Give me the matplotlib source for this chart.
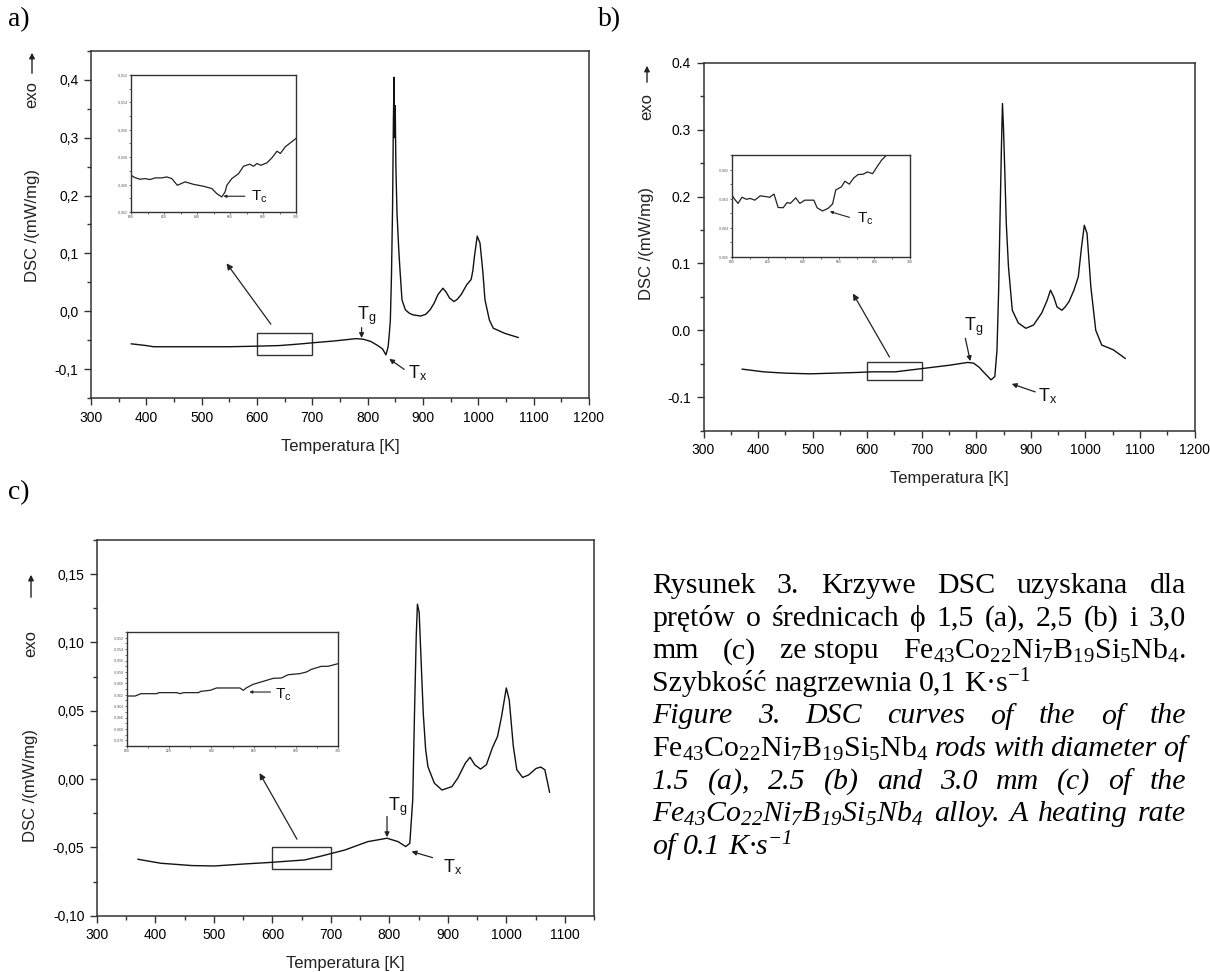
import numpy as np
import matplotlib
matplotlib.use('Agg')
import matplotlib.pyplot as plt
from matplotlib.ticker import MultipleLocator, FuncFormatter

plt.rcParams['font.family'] = ['Liberation Sans', 'DejaVu Sans']
plt.rcParams['mathtext.fontset'] = 'custom'
plt.rcParams['mathtext.rm'] = 'Liberation Serif'
plt.rcParams['mathtext.it'] = 'Liberation Serif:italic'
plt.rcParams['mathtext.bf'] = 'Liberation Serif:italic'
plt.rcParams['mathtext.sf'] = 'Liberation Sans'

W, H = 1210, 972

# ---- panel a) phi 1,5 mm
temp_a = [373, 400, 413, 450, 500, 551, 600, 640, 654, 680,
          703, 740, 779, 792, 806, 820, 827, 833, 837, 839,
          841, 843, 845, 846.5, 847.7, 848.5, 849.8, 851, 853, 856,
          858, 862, 868, 875, 882, 896, 905, 913, 920, 927,
          936, 942, 948, 956, 962, 969, 979, 987, 990, 993,
          998, 1003, 1008, 1012, 1020, 1027, 1048, 1072]
dsc_a = [-0.056, -0.059, -0.061, -0.061, -0.061, -0.061, -0.060, -0.059, -0.058, -0.056,
         -0.054, -0.051, -0.047, -0.048, -0.052, -0.060, -0.065, -0.075, -0.061, -0.040,
         -0.015, 0.060, 0.180, 0.330, 0.404, 0.300, 0.355, 0.250, 0.170, 0.110,
         0.078, 0.020, 0.003, -0.003, -0.006, -0.008, -0.005, 0.003, 0.014, 0.029,
         0.040, 0.033, 0.023, 0.017, 0.021, 0.029, 0.046, 0.055, 0.070, 0.095,
         0.130, 0.118, 0.070, 0.020, -0.015, -0.029, -0.038, -0.045]
ins_temp_a = [600, 602.4, 605.5, 608.5, 611.5, 614.6, 618.6, 621.7, 624.7, 628.1,
              632.8, 637.9, 643.9, 649, 652, 655, 657, 658.1, 661.1, 665.2,
              668.2, 671.9, 674.3, 676.3, 678.7, 682.4, 685.4, 688.5, 690.5, 693.5,
              696.6, 700]
ins_dsc_a = [-0.05932, -0.05949, -0.05961, -0.05956, -0.05963, -0.05951, -0.05951, -0.05944, -0.05956, -0.06005,
             -0.05980, -0.05998, -0.06012, -0.06029, -0.06066, -0.06090, -0.06054, -0.06005, -0.05956, -0.05920,
             -0.05866, -0.05851, -0.05866, -0.05846, -0.05859, -0.05841, -0.05805, -0.05756, -0.05773, -0.05724,
             -0.05695, -0.05663]

# ---- panel b) phi 2,5 mm
temp_b = [371, 410, 450, 495, 538, 580, 610, 652, 702, 752,
          784, 795, 805, 813, 820, 827, 834, 838, 841, 843,
          846, 848, 850, 852, 855, 859, 866, 877, 891, 905,
          920, 930, 936, 942, 948, 957, 963, 970, 979, 987,
          993, 998, 1003, 1010, 1019, 1030, 1051, 1073]
dsc_b = [-0.058, -0.062, -0.064, -0.065, -0.064, -0.063, -0.062, -0.062, -0.057, -0.052,
         -0.048, -0.049, -0.055, -0.062, -0.068, -0.074, -0.069, -0.029, 0.060, 0.145,
         0.270, 0.339, 0.300, 0.245, 0.160, 0.095, 0.030, 0.011, 0.003, 0.008,
         0.026, 0.045, 0.060, 0.050, 0.035, 0.030, 0.035, 0.043, 0.060, 0.080,
         0.125, 0.157, 0.145, 0.065, 0.000, -0.022, -0.029, -0.042]
ins_temp_b = [600, 601.5, 603.4, 605.6, 608.1, 610.3, 612.8, 615.9, 619.3, 621.2,
              623.6, 625.9, 628.7, 631, 632.8, 635.8, 638.1, 640.9, 646, 647.8,
              650.8, 654, 656.5, 658.3, 661.5, 663.4, 665.9, 668.5, 670.9, 673.7,
              676, 679, 681.2, 684, 686.9]
ins_dsc_b = [-0.06288, -0.06302, -0.06316, -0.06295, -0.06302, -0.06299, -0.06305, -0.06290, -0.06293, -0.06295,
             -0.06284, -0.06330, -0.06331, -0.06313, -0.06316, -0.06297, -0.06316, -0.06305, -0.06305, -0.06331,
             -0.06342, -0.06333, -0.06318, -0.06270, -0.06259, -0.06240, -0.06250, -0.06228, -0.06217, -0.06216,
             -0.06208, -0.06214, -0.06193, -0.06168, -0.06150]

# ---- panel c) phi 3,0 mm
temp_c = [370, 409, 462, 501, 553, 593, 632, 655, 684, 724,
          763, 796, 815, 828, 835, 840, 843, 846, 848, 851,
          854, 858, 862, 866, 877, 890, 907, 917, 930, 938,
          946, 956, 966, 976, 985, 992, 1000, 1005, 1012, 1018,
          1028, 1038, 1051, 1059, 1066, 1074]
dsc_c = [-0.0587, -0.0616, -0.0633, -0.0636, -0.0621, -0.0611, -0.0599, -0.0592, -0.0563, -0.0519,
         -0.0458, -0.0433, -0.0458, -0.0494, -0.0470, -0.0150, 0.0480, 0.1050, 0.1280, 0.1220,
         0.0900, 0.0480, 0.0220, 0.0090, -0.0030, -0.0080, -0.0055, 0.0007, 0.0117, 0.0160,
         0.0105, 0.0073, 0.0105, 0.0227, 0.0312, 0.0460, 0.0667, 0.0580, 0.0240, 0.0068,
         0.0012, 0.0030, 0.0078, 0.0088, 0.0068, -0.0096]
ins_temp_c = [600, 603.9, 606.6, 614.2, 615, 623.6, 625.2, 626.8, 633.9, 635,
              639.4, 642.5, 653.5, 655.1, 656.7, 659.8, 664.6, 669.3, 673.2, 676.4,
              681.9, 685, 687.4, 692.1, 695.3, 700]
ins_dsc_c = [-0.06223, -0.06223, -0.06182, -0.06182, -0.06164, -0.06164, -0.06182, -0.06164, -0.06164, -0.06141,
             -0.06123, -0.06082, -0.06082, -0.06123, -0.06077, -0.06018, -0.05965, -0.05913, -0.05907, -0.05849,
             -0.05831, -0.05802, -0.05755, -0.05702, -0.05702, -0.05656]

zoom_window = (600, 700)


def box(l, t, r, b):
    return [l / W, 1 - b / H, (r - l) / W, (b - t) / H]


def fp(x, y):
    return (x / W, 1 - y / H)


def fmt(decimals, comma):
    def f(v, pos):
        s = f"{round(v, decimals + 2):.{decimals}f}"
        if s.startswith('-') and float(s) == 0:
            s = s[1:]
        return s.replace('.', ',') if comma else s
    return FuncFormatter(f)


def main_axes(rect, xlim, ylim, ystep, decimals, comma):
    ax = fig.add_axes(rect)
    ax.set_xlim(*xlim)
    ax.set_ylim(*ylim)
    ax.xaxis.set_major_locator(MultipleLocator(100))
    ax.xaxis.set_minor_locator(MultipleLocator(50))
    ax.yaxis.set_major_locator(MultipleLocator(ystep))
    ax.yaxis.set_minor_locator(MultipleLocator(ystep / 2))
    ax.yaxis.set_major_formatter(fmt(decimals, comma))
    ax.tick_params(which='both', direction='out', top=False, right=False,
                   labelsize=10, color='#333333', width=1)
    ax.tick_params(which='major', length=5, pad=4)
    ax.tick_params(which='minor', length=3)
    for s in ax.spines.values():
        s.set_linewidth(1.1)
        s.set_color('#333333')
    return ax


def inset_axes(rect, ylim, ystep, temps, vals):
    ax = fig.add_axes(rect)
    ax.plot(temps, vals, color='#222222', lw=0.9)
    ax.set_xlim(*zoom_window)
    ax.set_ylim(*ylim)
    ax.xaxis.set_major_locator(MultipleLocator(20))
    ax.xaxis.set_minor_locator(MultipleLocator(10))
    ax.yaxis.set_major_locator(MultipleLocator(ystep))
    ax.yaxis.set_minor_locator(MultipleLocator(ystep / 2))
    ax.yaxis.set_major_formatter(fmt(3, True))
    ax.tick_params(which='both', direction='out', labelsize=2.5, length=1.5,
                   width=0.6, pad=1, colors='#555555')
    for s in ax.spines.values():
        s.set_linewidth(1.0)
        s.set_color('#333333')
    return ax


def arrow(ax, tail, head, lw=0.9, ms=9):
    ax.annotate('', xy=head, xytext=tail,
                arrowprops=dict(arrowstyle='-|>', color='#222222', lw=lw,
                                mutation_scale=ms, shrinkA=0, shrinkB=0))


def label_T(ax, pos, sub, size=13):
    ax.text(pos[0], pos[1], r'$\mathsf{T}_{\mathsf{' + sub + '}}$',
            fontsize=size, ha='left', va='center', color='#111111')


def side_labels(xc, dsc_y, exo_y, arr_from, arr_to):
    fig.text(*fp(xc, dsc_y), 'DSC /(mW/mg)', rotation=90, fontsize=12,
             ha='center', va='center', color='#222222')
    fig.text(*fp(xc, exo_y), 'exo', rotation=90, fontsize=12,
             ha='center', va='center', color='#222222')
    fig.add_artist(matplotlib.patches.FancyArrowPatch(
        fp(xc, arr_from), fp(xc, arr_to), transform=fig.transFigure,
        arrowstyle='-|>', mutation_scale=8, color='#222222', lw=1))


fig = plt.figure(figsize=(W / 100, H / 100), dpi=100)

# ================= a)
ax = main_axes(box(91, 50.7, 589, 398.3), (300, 1200), (-0.15, 0.45), 0.1, 1, True)
ax.plot(temp_a, dsc_a, color='#111111', lw=1.0)
ax.add_patch(plt.Rectangle((zoom_window[0], -0.076), 100, 0.038, fill=False,
                           ec='#333333', lw=1.0))
arrow(ax, (625, -0.022), (545, 0.083))
arrow(ax, (789, -0.028), (789, -0.046), ms=7)
label_T(ax, (781, -0.008), 'g')
arrow(ax, (866, -0.100), (839, -0.082), ms=7)
label_T(ax, (872, -0.106), 'x')
ax.set_xlabel('Temperatura [K]', fontsize=12, labelpad=10, color='#222222')
side_labels(32, 225, 95, 76, 50)

ia = inset_axes(box(131, 75, 296, 212), (-0.062, -0.052), 0.002, ins_temp_a, ins_dsc_a)
arrow(ia, (669, -0.06085), (656, -0.06085), lw=0.8, ms=4)
label_T(ia, (673, -0.0609), 'c', size=11)

# ================= b)
ax = main_axes(box(703.5, 62.7, 1194.5, 430.7), (300, 1200), (-0.15, 0.4), 0.1, 1, False)
ax.plot(temp_b, dsc_b, color='#111111', lw=1.0)
ax.add_patch(plt.Rectangle((zoom_window[0], -0.074), 100, 0.026, fill=False,
                           ec='#333333', lw=1.0))
arrow(ax, (641, -0.040), (574, 0.055))
arrow(ax, (780, -0.012), (789, -0.046), ms=7)
label_T(ax, (778, 0.006), 'g')
arrow(ax, (908, -0.092), (865, -0.080), ms=7)
label_T(ax, (914, -0.098), 'x')
ax.set_xlabel('Temperatura [K]', fontsize=12, labelpad=10, color='#222222')
side_labels(647, 243, 107, 85, 63)

ib = inset_axes(box(732, 155, 910, 257), (-0.065, -0.0615), 0.001, ins_temp_b, ins_dsc_b)
arrow(ib, (666, -0.06364), (655, -0.06344), lw=0.8, ms=4)
label_T(ib, (670, -0.0637), 'c', size=11)

# ================= c)
ax = main_axes(box(97, 540, 594, 915.7), (300, 1150), (-0.10, 0.175), 0.05, 2, True)
ax.plot(temp_c, dsc_c, color='#111111', lw=1.0)
ax.add_patch(plt.Rectangle((zoom_window[0], -0.066), 100, 0.0166, fill=False,
                           ec='#333333', lw=1.0))
arrow(ax, (642, -0.044), (578, 0.0044))
arrow(ax, (796, -0.0274), (796, -0.0425), ms=7)
label_T(ax, (798, -0.020), 'g')
arrow(ax, (874, -0.0575), (838, -0.053), ms=7)
label_T(ax, (892, -0.0645), 'x')
ax.set_xlabel('Temperatura [K]', fontsize=12, labelpad=10, color='#222222')
side_labels(31, 785, 643, 600, 572)

ic = inset_axes(box(127, 632, 338, 746), (-0.071, -0.051), 0.002, ins_temp_c, ins_dsc_c)
arrow(ic, (668, -0.06153), (658, -0.06153), lw=0.8, ms=4)
label_T(ic, (670, -0.0621), 'c', size=11)

# panel letters
for letter, (x, y) in zip(['a)', 'b)', 'c)'], [(8, 20), (598, 20), (8, 493)]):
    fig.text(*fp(x, y), letter, fontsize=20, family='Liberation Serif',
             ha='left', va='center')

# ================= caption (justified)
serif = ['Liberation Serif', 'DejaVu Serif']
cap_size = 21.5
left_px, right_px = 652, 1186
alloy = r'Fe$_{43}$Co$_{22}$Ni$_{7}$B$_{19}$Si$_{5}$Nb$_{4}$'
alloy_it = r'Fe$_{\mathbf{43}}$Co$_{\mathbf{22}}$Ni$_{\mathbf{7}}$B$_{\mathbf{19}}$Si$_{\mathbf{5}}$Nb$_{\mathbf{4}}$'
N, I = 'normal', 'italic'
caption_lines = [
    ([(w, N) for w in 'Rysunek 3. Krzywe DSC uzyskana dla'.split()], True),
    ([(w, N) for w in 'prętów o średnicach ϕ 1,5 (a), 2,5 (b) i 3,0'.split()], True),
    ([('mm', N), ('(c)', N), ('ze stopu', N), (alloy + '.', N)], True),
    ([('Szybkość', N), ('nagrzewnia', N), ('0,1', N), (r'K·s$^{-1}$', N)], False),
    ([(w, I) for w in 'Figure 3. DSC curves of the of the'.split()], True),
    ([(alloy, N)] + [(w, I) for w in 'rods with diameter of'.split()], True),
    ([(w, I) for w in '1.5 (a), 2.5 (b) and 3.0 mm (c) of the'.split()], True),
    ([(alloy_it, I)] + [(w, I) for w in 'alloy. A heating rate'.split()], True),
    ([('of', I), ('0.1', I), (r'K·s$^{\mathbf{-1}}$', I)], False),
]
line_y0, line_dy = 583, 32.6
renderer = fig.canvas.get_renderer()
for i, (words, justify) in enumerate(caption_lines):
    y = line_y0 + i * line_dy
    texts = [fig.text(0, 1 - y / H, w, fontsize=cap_size, family=serif, style=st,
                      ha='left', va='center_baseline') for w, st in words]
    widths = [t.get_window_extent(renderer=renderer).width for t in texts]
    if justify and len(texts) > 1:
        gap = (right_px - left_px - sum(widths)) / (len(texts) - 1)
    else:
        gap = cap_size * 100 / 72 * 0.25
    x = left_px
    for t, w in zip(texts, widths):
        t.set_x(x / W)
        x += w + gap

fig.savefig('out.png', dpi=100)
